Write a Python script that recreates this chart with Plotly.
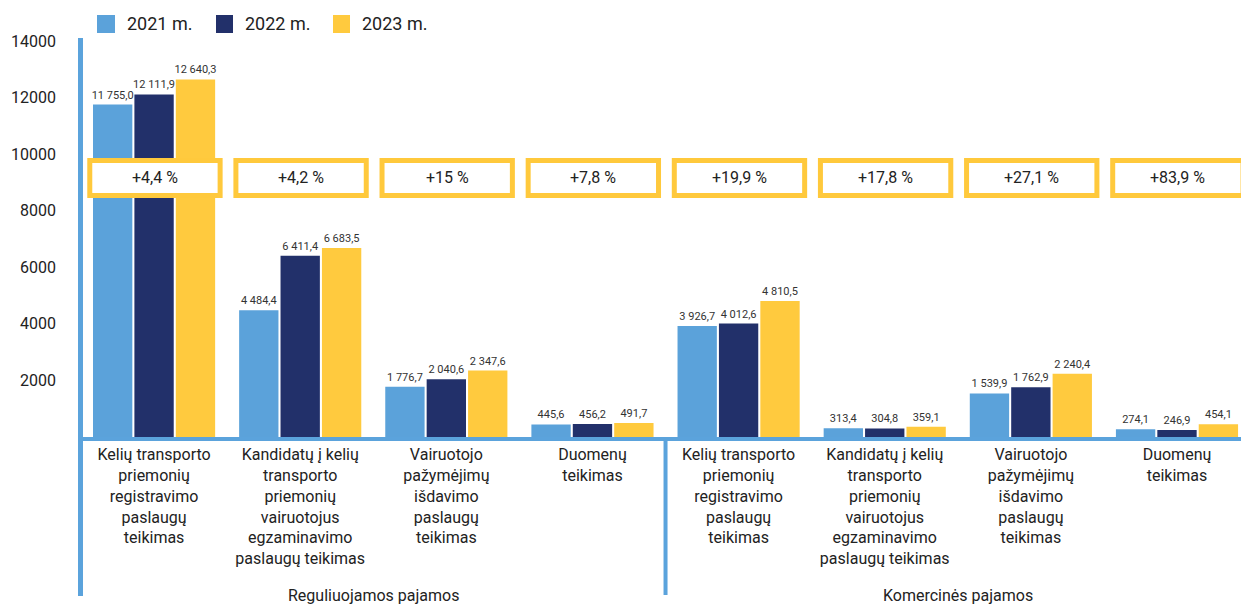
import plotly.graph_objects as go

# ---- data ----
years = ["2021 m.", "2022 m.", "2023 m."]
category_lines = [
    ["Kelių transporto", "priemonių", "registravimo", "paslaugų", "teikimas"],
    ["Kandidatų į kelių", "transporto", "priemonių", "vairuotojus", "egzaminavimo", "paslaugų teikimas"],
    ["Vairuotojo", "pažymėjimų", "išdavimo", "paslaugų", "teikimas"],
    ["Duomenų", "teikimas"],
    ["Kelių transporto", "priemonių", "registravimo", "paslaugų", "teikimas"],
    ["Kandidatų į kelių", "transporto", "priemonių", "vairuotojus", "egzaminavimo", "paslaugų teikimas"],
    ["Vairuotojo", "pažymėjimų", "išdavimo", "paslaugų", "teikimas"],
    ["Duomenų", "teikimas"],
]
groups = ["Reguliuojamos pajamos", "Komercinės pajamos"]
v2021 = [11755.0, 4484.4, 1776.7, 445.6, 3926.7, 313.4, 1539.9, 274.1]
v2022 = [12111.9, 6411.4, 2040.6, 456.2, 4012.6, 304.8, 1762.9, 246.9]
v2023 = [12640.3, 6683.5, 2347.6, 491.7, 4810.5, 359.1, 2240.4, 454.1]
changes = ["+4,4 %", "+4,2 %", "+15 %", "+7,8 %", "+19,9 %", "+17,8 %", "+27,1 %", "+83,9 %"]
y_ticks = [2000, 4000, 6000, 8000, 10000, 12000, 14000]

colors = ["#5BA2DA", "#22306A", "#FFCA3E"]
BLUE = "#5BA3DC"
YELLOW = "#FFC93C"
FONT = "Roboto"
TXT = "#222222"

W, H = 1241, 606
ML, MR, MT, MB = 81, 0, 41, H - 437
ph = H - MT - MB
pw = W - ML - MR

def py(page_y):
    return (H - MB - page_y) / ph

def px(page_x):
    return (page_x - ML) / pw

xs = list(range(len(v2021)))
fig = go.Figure()
for name, vals, c in zip(years, [v2021, v2022, v2023], colors):
    fig.add_trace(go.Bar(
        x=xs, y=vals, name=name, marker_color=c, marker_line_width=0,
        text=vals, texttemplate="%{y:,.1f}", textposition="outside",
        textfont=dict(family=FONT, size=11, color="#333333"),
        constraintext="none", cliponaxis=False, showlegend=False,
        hoverinfo="skip",
    ))

shapes = []
annotations = []

# percentage boxes
for i, t in enumerate(changes):
    shapes.append(dict(type="rect", xref="x", yref="y", x0=i - 0.44, x1=i + 0.452,
                       y0=8540, y1=9775, fillcolor="white",
                       line=dict(color=YELLOW, width=5), layer="above"))
    annotations.append(dict(x=i + 0.005, y=9157, xref="x", yref="y", text=t, showarrow=False,
                            font=dict(family=FONT, size=16, color=TXT)))

# left vertical line (extends below the axis)
shapes.append(dict(type="line", xref="paper", yref="paper", x0=px(80.5), x1=px(80.5),
                   y0=py(596), y1=py(38), line=dict(color=BLUE, width=5)))
# separator between groups
shapes.append(dict(type="line", xref="x", yref="paper", x0=3.5, x1=3.5,
                   y0=py(595), y1=py(440), line=dict(color=BLUE, width=4)))

# group labels
for gx, g in zip([1.5, 5.5], groups):
    annotations.append(dict(x=gx, y=py(595), xref="x", yref="paper", text=g, showarrow=False,
                            yanchor="middle", font=dict(family=FONT, size=16, color=TXT)))

# manual legend
leg_sq = [(97, 115), (216, 233), (333, 350)]
leg_tx = [125, 243, 360]
for (a, b), tx, c, name in zip(leg_sq, leg_tx, colors, years):
    shapes.append(dict(type="rect", xref="paper", yref="paper", x0=px(a), x1=px(b),
                       y0=py(33), y1=py(15), fillcolor=c, line=dict(width=0)))
    annotations.append(dict(x=px(tx), y=py(24), xref="paper", yref="paper", text=name,
                            showarrow=False, xanchor="left", yanchor="middle",
                            font=dict(family=FONT, size=18, color=TXT)))

fig.update_layout(
    width=W, height=H,
    margin=dict(l=ML, r=MR, t=MT, b=MB),
    plot_bgcolor="white", paper_bgcolor="white",
    barmode="group", bargap=0.15, bargroupgap=0.05,
    separators=", ",
    font=dict(family=FONT, size=16, color=TXT),
    shapes=shapes, annotations=annotations,
    xaxis=dict(range=[-0.5, 7.438], tickvals=xs,
               ticktext=["<br>".join(l) for l in category_lines],
               tickfont=dict(family=FONT, size=16, color=TXT),
               showline=True, linecolor=BLUE, linewidth=4, showgrid=False,
               ticks="", zeroline=False, fixedrange=True),
    yaxis=dict(range=[0, 14000], tickvals=y_ticks, ticktext=[str(v) for v in y_ticks],
               tickfont=dict(family=FONT, size=16, color=TXT),
               showgrid=False, zeroline=False, showline=False, ticks="",
               ticklabelstandoff=24, fixedrange=True),
)

fig.write_html("out.html",
               config={"displayModeBar": False},
               post_script="document.body.style.margin='0';document.body.style.overflow='hidden';")
